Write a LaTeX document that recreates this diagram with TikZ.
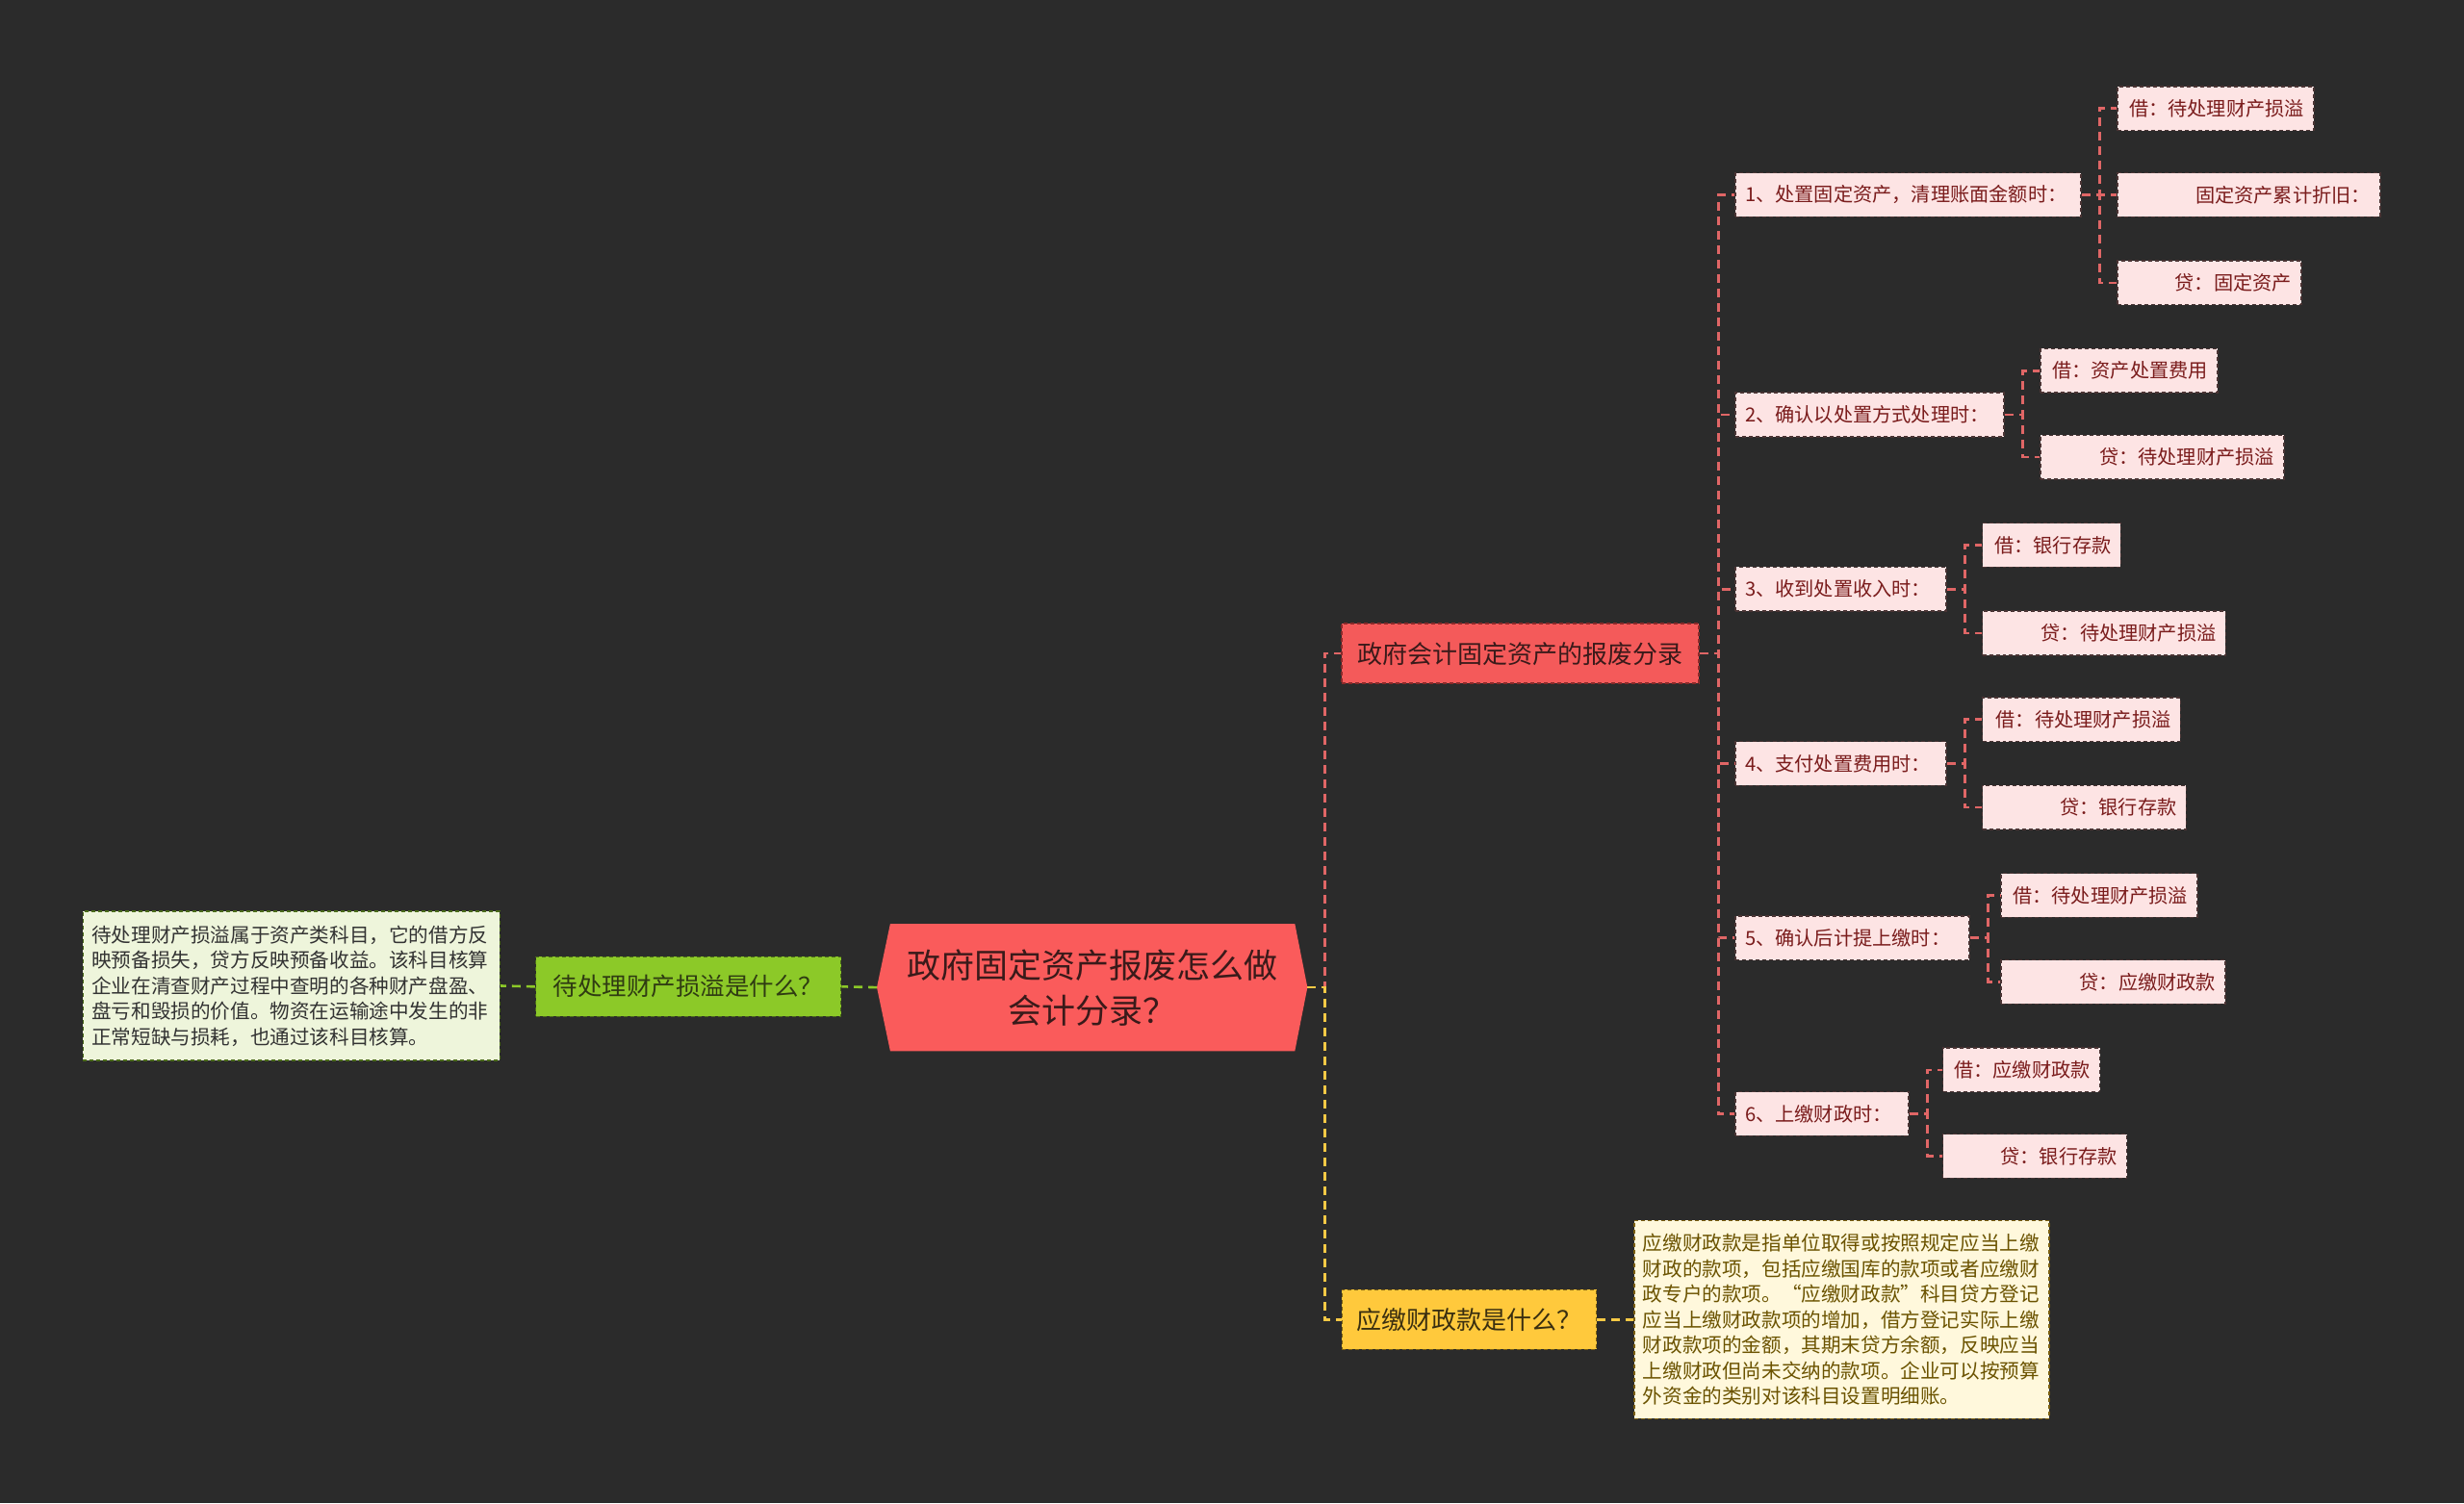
\documentclass[tikz,border=0pt]{standalone}
\usepackage{fontspec}
\setmainfont{Noto Sans CJK SC}
\definecolor{bg}{HTML}{2B2B2B}
\definecolor{rootfill}{HTML}{FA5B5B}
\definecolor{roottx}{HTML}{3A1A1A}
\definecolor{redfill}{HTML}{F45A5A}
\definecolor{redbd}{HTML}{8A2A2A}
\definecolor{pinkfill}{HTML}{FDE4E4}
\definecolor{pinkbd}{HTML}{4A3434}
\definecolor{pinktx}{HTML}{7A1C1C}
\definecolor{greenfill}{HTML}{8CC928}
\definecolor{greenbd}{HTML}{4A6A1A}
\definecolor{greentx}{HTML}{2F3B12}
\definecolor{gdescfill}{HTML}{EEF5DB}
\definecolor{gdesctx}{HTML}{333333}
\definecolor{yelfill}{HTML}{FFC93C}
\definecolor{yelbd}{HTML}{7A5E10}
\definecolor{yeltx}{HTML}{3A2F10}
\definecolor{ydescfill}{HTML}{FFF8DC}
\definecolor{ydesctx}{HTML}{6B5300}
\definecolor{redln}{HTML}{E06666}
\definecolor{yelln}{HTML}{F6C945}
\definecolor{grnln}{HTML}{8CC928}
\begin{document}
\begin{tikzpicture}[x=1.6327pt,y=-1.6327pt,
  every node/.style={font=\fontsize{20.2}{24}\selectfont},
  base/.style={draw, dash pattern=on 4pt off 3pt, line width=1.4pt, inner xsep=10pt, inner ysep=0pt, anchor=west},
  leaf/.style={base, fill=pinkfill, draw=pinkbd, text=pinktx, minimum height=45.7pt},
  lvtwo/.style={leaf, align=left, text width=#1},
  lvthree/.style={leaf, align=right, text width=#1},
  branch/.style={base, anchor=center, minimum height=62pt, align=center, font=\fontsize{26}{30}\selectfont},
  desc/.style={base, anchor=center, inner xsep=9pt, align=left, font=\fontsize{20.6}{26.5}\selectfont},
  rline/.style={draw=redln, line width=2.6pt, dash pattern=on 9pt off 6pt},
  yline/.style={draw=yelln, line width=2.6pt, dash pattern=on 9pt off 6pt},
  gline/.style={draw=grnln, line width=2.6pt, dash pattern=on 9pt off 6pt}]

\fill[bg] (0,0) rectangle (1568,957);
\useasboundingbox (0,0) rectangle (1568,957);

% root
\fill[rootfill] (558,628.5) -- (566.5,588) -- (824,588) -- (832,628.5) -- (824,669) -- (566.5,669) -- cycle;
\coordinate (rootL) at (558,628.5);
\coordinate (rootR) at (832,628.5);
\node[text=roottx, align=center, font=\fontsize{35}{47}\selectfont] (root) at (695,628.5) {政府固定资产报废怎么做\\会计分录？};

% left branch
\node[branch, fill=greenfill, draw=greenbd, text=greentx, minimum width=317pt, font=\fontsize{25.5}{30}\selectfont] (green) at (438,628) {待处理财产损溢是什么？};
\node[desc, fill=gdescfill, draw=greenbd, text=gdesctx, text width=415pt, minimum height=155pt] (gdesc) at (185.5,627.5)
 {待处理财产损溢属于资产类科目，它的借方反\\映预备损失，贷方反映预备收益。该科目核算\\企业在清查财产过程中查明的各种财产盘盈、\\盘亏和毁损的价值。物资在运输途中发生的非\\正常短缺与损耗，也通过该科目核算。};

% red branch
\node[branch, fill=redfill, draw=redbd, text=roottx, minimum width=371pt] (red) at (967.5,416) {政府会计固定资产的报废分录};

% yellow branch
\node[branch, fill=yelfill, draw=yelbd, text=yeltx, minimum width=264.5pt] (yellow) at (935,840) {应缴财政款是什么？};
\node[desc, fill=ydescfill, draw=yelbd, text=ydesctx, text width=413pt, minimum height=206pt] (ydesc) at (1172,840)
 {应缴财政款是指单位取得或按照规定应当上缴\\财政的款项，包括应缴国库的款项或者应缴财\\政专户的款项。“应缴财政款”科目贷方登记\\应当上缴财政款项的增加，借方登记实际上缴\\财政款项的金额，其期末贷方余额，反映应当\\上缴财政但尚未交纳的款项。企业可以按预算\\外资金的类别对该科目设置明细账。};

% level 2
\node[lvtwo=339pt] (l1) at (1104,124) {1、处置固定资产，清理账面金额时：};
\node[lvtwo=259pt] (l2) at (1104,264) {2、确认以处置方式处理时：};
\node[lvtwo=199pt] (l3) at (1104,375) {3、收到处置收入时：};
\node[lvtwo=199pt] (l4) at (1104,486) {4、支付处置费用时：};
\node[lvtwo=223pt] (l5) at (1104,597) {5、确认后计提上缴时：};
\node[lvtwo=160pt] (l6) at (1104,709) {6、上缴财政时：};

% level 3
\node[lvthree=184pt] (l1a) at (1347,69) {借：待处理财产损溢};
\node[lvthree=253pt] (l1b) at (1347,124) {固定资产累计折旧：};
\node[lvthree=171pt] (l1c) at (1347,180) {贷：固定资产};
\node[lvthree=164pt] (l2a) at (1298,236) {借：资产处置费用};
\node[lvthree=233pt] (l2b) at (1298,291) {贷：待处理财产损溢};
\node[lvthree=124pt] (l3a) at (1261,347) {借：银行存款};
\node[lvthree=233pt] (l3b) at (1261,403) {贷：待处理财产损溢};
\node[lvthree=186pt] (l4a) at (1261,458) {借：待处理财产损溢};
\node[lvthree=192pt] (l4b) at (1261,514) {贷：银行存款};
\node[lvthree=184pt] (l5a) at (1273,570) {借：待处理财产损溢};
\node[lvthree=213pt] (l5b) at (1273,625) {贷：应缴财政款};
\node[lvthree=143pt] (l6a) at (1236,681) {借：应缴财政款};
\node[lvthree=171pt] (l6b) at (1236,736) {贷：银行存款};

% connectors
\draw[gline] (rootL) -- (green.east);
\draw[gline] (green.west) -- (gdesc.east);
\draw[rline] (rootR) -- ++(11,0) |- (red.west);
\draw[yline] (rootR) -- ++(11,0) |- (yellow.west);
\draw[yline] (yellow.east) -- (ydesc.west);
\foreach \n in {l1,l2,l3,l4,l5,l6}
  \draw[rline] (red.east) -- ++(12,0) |- (\n.west);
\foreach \p/\c in {l1/l1a,l1/l1b,l1/l1c,l2/l2a,l2/l2b,l3/l3a,l3/l3b,l4/l4a,l4/l4b,l5/l5a,l5/l5b,l6/l6a,l6/l6b}
  \draw[rline] (\p.east) -- ++(11.5,0) |- (\c.west);
\end{tikzpicture}
\end{document}
